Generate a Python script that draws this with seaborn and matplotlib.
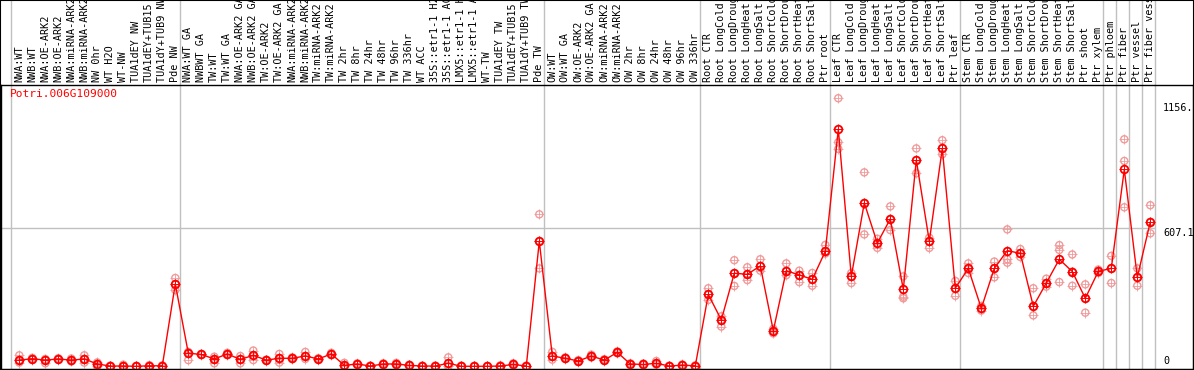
import numpy as np
import pandas as pd
import seaborn as sns
import matplotlib.pyplot as plt
from matplotlib.patches import Rectangle
import matplotlib.transforms as mtransforms

gene = "Potri.006G109000"

labels = [
    # group 1
    "NWA:WT", "NWB:WT", "NWA:OE-ARK2", "NWB:OE-ARK2", "NWA:miRNA-ARK2", "NWB:miRNA-ARK2",
    "NW 0hr", "WT H2O", "WT-NW", "TUA1dEY NW", "TUA1dEY+TUB15", "TUA1dY+TUB9 NW", "Pde NW",
    # group 2
    "NWA:WT GA", "NWBWT GA", "TW:WT", "TW:WT GA", "NWA:OE-ARK2 GA", "NWB:OE-ARK2 GA",
    "TW:OE-ARK2", "TW:OE-ARK2 GA", "NWA:miRNA-ARK2", "NWB:miRNA-ARK2", "TW:miRNA-ARK2",
    "TW:miRNA-ARK2", "TW 2hr", "TW 8hr", "TW 24hr", "TW 48hr", "TW 96hr", "TW 336hr", "WT ACC",
    "35S::etr1-1 H2O", "35S::etr1-1 ACC", "LMX5::etr1-1 H2O", "LMX5::etr1-1 ACC", "WT-TW",
    "TUA1dEY TW", "TUA1dEY+TUB15", "TUA1dY+TUB9 TW", "Pde TW",
    # group 3
    "OW:WT", "OW:WT GA", "OW:OE-ARK2", "OW:OE-ARK2 GA", "OW:miRNA-ARK2", "OW:miRNA-ARK2",
    "OW 2hr", "OW 8hr", "OW 24hr", "OW 48hr", "OW 96hr", "OW 336hr",
    # root
    "Root CTR", "Root LongCold", "Root LongDrought", "Root LongHeat", "Root LongSalt",
    "Root ShortCold", "Root ShortDrought", "Root ShortHeat", "Root ShortSalt", "Ptr root",
    # leaf
    "Leaf CTR", "Leaf LongCold", "Leaf LongDrought", "Leaf LongHeat", "Leaf LongSalt",
    "Leaf ShortCold", "Leaf ShortDrought", "Leaf ShortHeat", "Leaf ShortSalt", "Ptr leaf",
    # stem
    "Stem CTR", "Stem LongCold", "Stem LongDrought", "Stem LongHeat", "Stem LongSalt",
    "Stem ShortCold", "Stem ShortDrought", "Stem ShortHeat", "Stem ShortSalt", "Ptr shoot",
    "Ptr xylem",
    # ptr tissues
    "Ptr phloem", "Ptr fiber", "Ptr vessel", "Ptr fiber vessel",
]

# first index of each group (separator lines go just before these)
group_starts = [0, 13, 41, 53, 63, 73, 84, 85, 86, 87, 88]

mean_values = [
    28, 34, 28, 33, 28, 33, 11, 2, 2, 1, 3, 3, 362,
    58, 53, 33, 55, 31, 49, 28, 36, 36, 46, 33, 55, 5, 11, 2, 11, 11, 5, 2,
    2, 14, 1, 1, 1, 2, 9, 2, 549,
    46, 36, 24, 46, 28, 62, 11, 9, 14, 2, 6, 3,
    316, 204, 409, 404, 441, 157, 420, 401, 382, 505,
    1040, 395, 717, 541, 647, 338, 905, 549, 956, 343,
    430, 255, 430, 508, 496, 264, 366, 470, 416, 299, 417,
    430, 864, 391, 634,
]

replicates = [
    [49, 17, 28], [38, 30, 34], [28, 14, 33], [33, 30, 36], [35, 22, 28], [49, 17, 33],
    [18, 0, 14], [2, 0, 4], [8, 0, 2], [1, 0, 3], [6, 0, 3], [5, 1, 3], [388, 335, 362],
    [64, 28, 58], [55, 50, 53], [43, 14, 33], [60, 50, 55], [46, 14, 31], [70, 28, 49],
    [28, 25, 30], [55, 17, 36], [40, 32, 36], [64, 33, 46], [36, 30, 33], [60, 50, 55],
    [16, 0, 5], [14, 8, 11], [4, 0, 2], [14, 8, 11], [16, 6, 11], [8, 2, 5], [4, 0, 2],
    [4, 0, 2], [40, 0, 3], [4, 0, 1], [3, 0, 1], [2, 0, 1], [5, 0, 2], [14, 5, 9],
    [4, 0, 2], [667, 430, 549],
    [64, 30, 46], [40, 33, 36], [28, 20, 24], [52, 40, 46], [32, 25, 28], [66, 58, 62],
    [14, 8, 11], [13, 6, 9], [24, 8, 14], [4, 0, 2], [9, 3, 6], [5, 1, 3],
    [343, 292, 316], [175, 220, 204], [466, 353, 409], [435, 379, 404], [470, 420, 441],
    [145, 165, 157], [452, 400, 420], [420, 370, 401], [410, 354, 382], [533, 495, 505],
    [1176, 983, 954], [410, 366, 395], [851, 579, 717], [560, 520, 541], [702, 598, 647],
    [395, 306, 299], [956, 847, 905], [565, 520, 549], [992, 930, 956], [375, 310, 343],
    [452, 410, 430], [245, 265, 255], [460, 391, 430], [601, 455, 470], [515, 480, 496],
    [343, 224, 264], [385, 350, 366], [532, 511, 370], [491, 354, 416], [360, 236, 299],
    [425, 410, 417],
    [485, 366, 430], [996, 901, 698], [430, 354, 391], [707, 584, 634],
]

y_ticks = [0, 607.1, 1156]
y_tick_labels = ["0", "607.1", "1156."]

mean_df = pd.DataFrame({"pos": np.arange(len(labels)), "value": mean_values})
rep_df = pd.DataFrame(
    [(i, v) for i, reps in enumerate(replicates) for v in reps], columns=["pos", "value"]
)

sns.set_style("white")
plt.rcParams["font.family"] = ["DejaVu Sans Mono"]

W, H = 1194, 370
fig = plt.figure(figsize=(W / 100, H / 100), dpi=100)
# plot box: x 1..1193 px, y 85..369 px (from top)
ax = fig.add_axes([1 / W, 1 / H, 1192 / W, 284 / H])

step = 13.0
x0 = 19.3
ax.set_xlim((1 - x0) / step, (1193 - x0) / step)
ax.set_ylim(-11, 1234)

red = "#ff0000"
pink = "#f09a9a"

# separator lines (run through the label strip too)
for s in group_starts:
    ax.axvline(s - 0.62, ymin=0, ymax=1 + 85 / 284, color="#c0c0c0", lw=1,
               clip_on=False, zorder=0)
ax.hlines(607.1, ax.get_xlim()[0], 88 - 0.62, color="#c0c0c0", lw=1, zorder=0)

sns.scatterplot(data=rep_df, x="pos", y="value", marker="o", s=26,
                facecolors="none", edgecolor=pink, linewidth=1, ax=ax, zorder=2)
sns.scatterplot(data=rep_df, x="pos", y="value", marker="+", s=42,
                color=pink, linewidth=0.6, ax=ax, zorder=2)
sns.lineplot(data=mean_df, x="pos", y="value", color=red, lw=1, marker="o",
             markersize=5.5, markerfacecolor="none", markeredgecolor=red,
             markeredgewidth=1.3, ax=ax, zorder=3)
sns.scatterplot(data=mean_df, x="pos", y="value", marker="+", s=48,
                color=red, linewidth=0.7, ax=ax, zorder=4)

# rotated category labels above the plot box
trans = mtransforms.blended_transform_factory(ax.transData, ax.transAxes)
for i, lab in enumerate(labels):
    ax.text(i, 1 + 3 / 284, lab, transform=trans, rotation=90, ha="center",
            va="bottom", fontsize=7.3, color="black", clip_on=False)

# value labels on the right
xr = (1163 - x0) / step
for v, t in zip(y_ticks, y_tick_labels):
    ax.text(xr, v, t, ha="left", va="bottom" if v == 0 else "top",
            fontsize=7.3, color="black")

ax.text(-0.7, 1195, gene, ha="left", va="center", fontsize=8, color=red)

ax.set_xticks([])
ax.set_yticks([])
ax.set_xlabel("")
ax.set_ylabel("")
for sp in ax.spines.values():
    sp.set_color("black")
    sp.set_linewidth(1)

fig.patches.append(Rectangle((0, 0), 1, 1, transform=fig.transFigure,
                             fill=False, edgecolor="black", lw=1.5))

fig.savefig("out.png", dpi=100)
plt.close(fig)
